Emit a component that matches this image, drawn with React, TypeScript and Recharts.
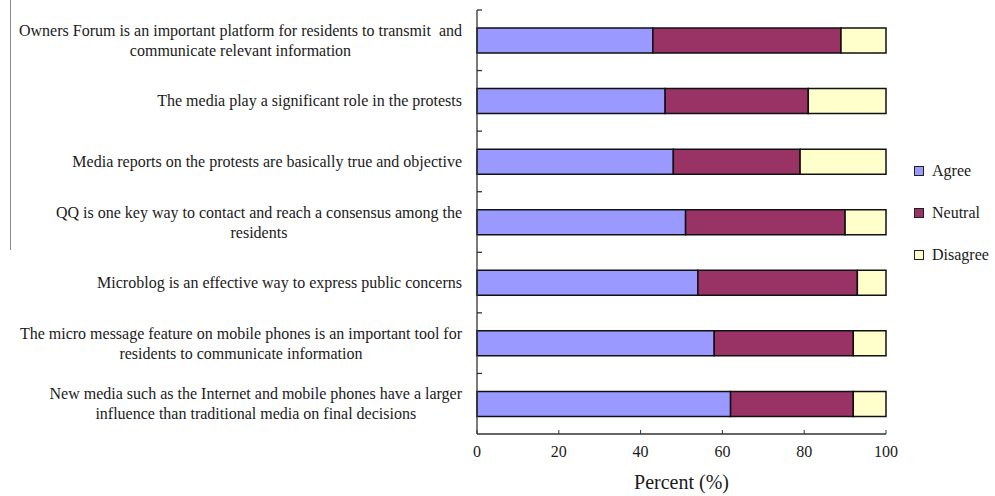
import { BarChart, Bar, XAxis, YAxis, Legend } from "recharts";

const statements = [
  "Owners Forum is an important platform for residents to transmit  and\ncommunicate relevant information",
  "The media play a significant role in the protests",
  "Media reports on the protests are basically true and objective",
  "QQ is one key way to contact and reach a consensus among the\nresidents",
  "Microblog is an effective way to express public concerns",
  "The micro message feature on mobile phones is an important tool for\nresidents to communicate information",
  "New media such as the Internet and mobile phones have a larger\ninfluence than traditional media on final decisions",
];
const seriesNames = ["Agree", "Neutral", "Disagree"];
const agree = [43, 46, 48, 51, 54, 58, 62];
const neutral = [46, 35, 31, 39, 39, 34, 30];
const disagree = [11, 19, 21, 10, 7, 8, 8];
const percentTicks = [0, 20, 40, 60, 80, 100];

const data = statements.map((s, i) => ({
  statement: s,
  Agree: agree[i],
  Neutral: neutral[i],
  Disagree: disagree[i],
}));

const W = 995;
const H = 496;
const LEGEND_W = 80;
const M = { top: 10, right: 109 - LEGEND_W, bottom: 0, left: 0 };
const X_AXIS_H = 62;
const Y_AXIS_W = 477;
const TICK_GAP = 15;
const BAND = (H - M.top - M.bottom - X_AXIS_H) / statements.length;
const FONT = "'Liberation Serif', 'Times New Roman', serif";
const INK = "#1a1a1a";

let ctx: CanvasRenderingContext2D | null = null;
function textWidth(s: string, size: number) {
  if (!ctx) ctx = document.createElement("canvas").getContext("2d");
  if (!ctx) return s.length * size * 0.45;
  ctx.font = `${size}px 'Liberation Serif'`;
  return ctx.measureText(s).width;
}

// wrapped labels: block right-aligned to the axis, lines centred inside the block
function StatementTick(props: any) {
  const { x, y, payload } = props;
  const lines: string[] = String(payload.value).split("\n");
  const size = 16;
  const lh = 20;
  const blockW = Math.max(...lines.map((l) => textWidth(l, size)));
  const cx = x - blockW / 2;
  const axisX = x + TICK_GAP;
  const top = y - ((lines.length - 1) * lh) / 2;
  return (
    <g>
      <line x1={axisX} x2={axisX + 5} y1={y - BAND / 2} y2={y - BAND / 2} stroke="#333" strokeWidth={1.3} />
      {lines.map((l, i) => (
        <text
          key={i}
          x={cx}
          y={top + i * lh}
          textAnchor="middle"
          dominantBaseline="central"
          fontFamily={FONT}
          fontSize={size}
          fill={INK}
          style={{ whiteSpace: "pre" }}
        >
          {l}
        </text>
      ))}
    </g>
  );
}

function LegendBox(props: any) {
  const items = [...(props.payload || [])].sort(
    (a: any, b: any) => seriesNames.indexOf(a.value) - seriesNames.indexOf(b.value)
  );
  return (
    <div style={{ fontFamily: FONT, fontSize: 16, color: INK, paddingLeft: 4 }}>
      {items.map((p: any) => (
        <div key={p.value} style={{ display: "flex", alignItems: "center", height: 42 }}>
          <span
            style={{
              display: "inline-block",
              width: 8,
              height: 8,
              background: p.color,
              border: "1px solid #222",
              marginRight: 8,
            }}
          />
          {p.value}
        </div>
      ))}
    </div>
  );
}

export default function App() {
  return (
    <div style={{ position: "absolute", left: 0, top: 0, width: W, height: H, background: "#fff" }}>
      <div style={{ position: "absolute", left: 10, top: 0, width: 1, height: 250, background: "#888" }} />
      <BarChart width={W} height={H} data={data} layout="vertical" margin={M} barSize={25}>
        <XAxis
          type="number"
          domain={[0, 100]}
          ticks={percentTicks}
          height={X_AXIS_H}
          axisLine={{ stroke: "#333", strokeWidth: 1.3 }}
          tickLine={{ stroke: "#333", strokeWidth: 1 }}
          tickSize={-4}
          tickMargin={16}
          tick={{ fontFamily: FONT, fontSize: 16, fill: INK }}
          label={{
            value: "Percent (%)",
            position: "insideBottom",
            offset: 7,
            fontFamily: FONT,
            fontSize: 20,
            fill: INK,
          }}
        />
        <YAxis
          type="category"
          dataKey="statement"
          width={Y_AXIS_W}
          axisLine={{ stroke: "#333", strokeWidth: 1.3 }}
          tickLine={false}
          tickSize={0}
          tickMargin={TICK_GAP}
          interval={0}
          tick={<StatementTick />}
        />
        <Legend
          layout="vertical"
          align="right"
          verticalAlign="middle"
          width={LEGEND_W}
          content={<LegendBox />}
          wrapperStyle={{ left: 910, top: 150 }}
        />
        <Bar dataKey="Agree" stackId="s" fill="#9999FF" stroke="#111" strokeWidth={1.5} isAnimationActive={false} />
        <Bar dataKey="Neutral" stackId="s" fill="#993366" stroke="#111" strokeWidth={1.5} isAnimationActive={false} />
        <Bar dataKey="Disagree" stackId="s" fill="#FFFFCC" stroke="#111" strokeWidth={1.5} isAnimationActive={false} />
      </BarChart>
    </div>
  );
}
